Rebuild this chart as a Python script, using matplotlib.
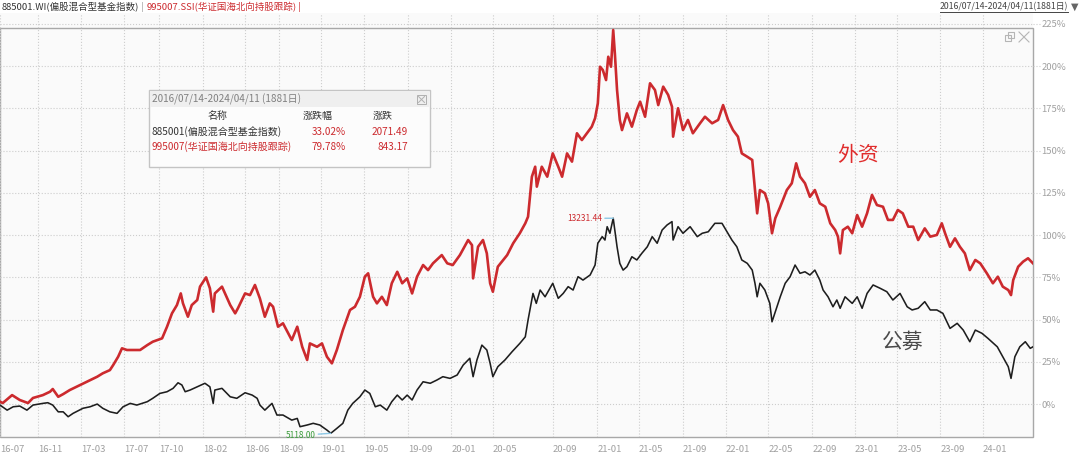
import matplotlib
matplotlib.use("Agg")
import matplotlib.pyplot as plt
from matplotlib.patches import Rectangle
from matplotlib.lines import Line2D

plt.rcParams['font.family'] = ['Noto Sans CJK SC', 'DejaVu Sans']

# ---- data (x = trading day index, y = % change) ----
red_day = [0, 5, 22, 36, 51, 60, 78, 91, 96, 106,
           115, 127, 146, 158, 177, 187, 200, 206, 215, 222,
           231, 242, 255, 268, 278, 295, 304, 313, 322, 329,
           333, 342, 349, 359, 364, 375, 382, 388, 391, 404,
           419, 428, 433, 446, 455, 464, 473, 482, 491, 497,
           506, 515, 531, 541, 550, 559, 564, 577, 586, 595,
           604, 613, 624, 637, 646, 655, 664, 670, 679, 686,
           695, 704, 713, 723, 732, 741, 750, 759, 770, 779,
           788, 804, 814, 824, 837, 852, 859, 861, 870, 879,
           886, 892, 897, 906, 923, 934, 946, 956, 961, 968,
           974, 977, 986, 996, 1006, 1016, 1023, 1032, 1041, 1050,
           1059, 1068, 1077, 1083, 1088, 1092, 1097, 1103, 1107, 1112,
           1116, 1119, 1123, 1128, 1132, 1141, 1150, 1159, 1165, 1174,
           1183, 1192, 1198, 1207, 1216, 1223, 1225, 1234, 1243, 1252,
           1261, 1274, 1283, 1296, 1307, 1316, 1325, 1334, 1343, 1350,
           1360, 1369, 1374, 1378, 1383, 1392, 1398, 1405, 1411, 1420,
           1432, 1441, 1449, 1456, 1465, 1474, 1483, 1492, 1502, 1511,
           1520, 1525, 1529, 1534, 1543, 1551, 1560, 1569, 1578, 1587,
           1596, 1607, 1616, 1625, 1634, 1643, 1653, 1662, 1671, 1683,
           1693, 1705, 1714, 1720, 1729, 1738, 1747, 1756, 1765, 1775,
           1784, 1796, 1807, 1816, 1825, 1835, 1840, 1844, 1853, 1862,
           1871, 1880]
red_pct = [1.4, 0.6, 5.3, 2.4, 0.6, 3.6, 5.3, 7.3, 8.9, 4.3,
           5.9, 8.3, 11.3, 13.2, 16.2, 18.2, 20.1, 23.1, 28.0, 33.0,
           32.0, 32.0, 32.0, 34.9, 36.9, 38.9, 45.8, 53.7, 58.6, 65.5,
           59.6, 51.7, 58.6, 61.6, 69.5, 75.0, 68.5, 54.7, 65.5, 69.5,
           58.6, 53.7, 56.7, 65.5, 64.5, 70.5, 62.5, 51.7, 59.6, 57.6,
           45.8, 47.8, 37.9, 45.8, 33.9, 26.1, 35.9, 33.9, 35.9, 28.0,
           24.1, 32.0, 43.8, 55.7, 57.6, 63.5, 75.4, 77.4, 63.5, 59.6,
           63.5, 58.6, 71.5, 78.3, 71.5, 74.4, 65.5, 75.4, 82.3, 79.3,
           83.3, 88.2, 83.3, 82.3, 88.2, 97.1, 94.1, 74.4, 93.1, 97.1,
           89.2, 71.5, 66.5, 81.3, 88.2, 95.2, 101.1, 107.0, 110.9, 134.6,
           140.5, 128.7, 140.5, 134.6, 148.4, 140.5, 134.6, 148.4, 143.5, 160.3,
           156.3, 160.3, 164.2, 169.2, 178.0, 199.7, 197.8, 191.8, 205.6, 199.7,
           221.4, 207.6, 185.9, 168.2, 162.2, 172.1, 164.2, 174.1, 179.0, 170.1,
           189.9, 185.9, 177.0, 187.9, 183.0, 176.0, 158.3, 175.1, 162.2, 168.2,
           160.3, 166.2, 170.1, 166.2, 168.2, 177.0, 168.2, 162.2, 158.3, 148.4,
           146.4, 144.5, 126.7, 112.9, 126.7, 124.8, 118.8, 101.1, 110.0, 116.8,
           126.7, 130.7, 142.5, 134.6, 130.7, 122.7, 126.7, 118.8, 116.8, 107.0,
           103.0, 99.1, 89.2, 103.0, 105.0, 101.1, 111.9, 105.0, 112.9, 123.8,
           117.8, 116.8, 109.0, 109.0, 114.9, 112.9, 105.0, 105.0, 97.1, 104.0,
           99.1, 100.1, 107.0, 101.1, 93.1, 98.1, 93.1, 89.2, 79.3, 85.3,
           83.3, 77.4, 71.5, 75.4, 69.5, 67.5, 64.5, 73.4, 81.3, 84.3,
           86.3, 83.3]

black_day = [0, 13, 24, 36, 49, 60, 78, 87, 96, 106,
             115, 124, 133, 151, 164, 177, 187, 200, 213, 224,
             237, 249, 268, 278, 291, 304, 315, 324, 331, 337,
             346, 359, 373, 382, 388, 391, 404, 419, 431, 446,
             459, 468, 473, 482, 495, 504, 515, 531, 541, 546,
             559, 570, 582, 595, 602, 613, 624, 633, 642, 655,
             664, 673, 683, 692, 704, 713, 723, 732, 741, 750,
             759, 770, 783, 795, 806, 819, 832, 843, 855, 861,
             868, 877, 886, 892, 897, 906, 919, 932, 946, 956,
             961, 970, 976, 983, 992, 1006, 1016, 1025, 1034, 1043,
             1052, 1061, 1074, 1083, 1088, 1096, 1101, 1105, 1110, 1116,
             1123, 1128, 1134, 1141, 1150, 1159, 1168, 1178, 1187, 1196,
             1205, 1214, 1223, 1225, 1234, 1243, 1256, 1269, 1278, 1289,
             1301, 1314, 1323, 1332, 1341, 1350, 1360, 1369, 1374, 1378,
             1383, 1392, 1401, 1405, 1414, 1420, 1429, 1438, 1447, 1456,
             1465, 1474, 1483, 1492, 1498, 1507, 1516, 1523, 1529, 1538,
             1551, 1560, 1569, 1578, 1589, 1602, 1614, 1625, 1638, 1651,
             1660, 1671, 1683, 1693, 1705, 1716, 1729, 1742, 1753, 1765,
             1775, 1787, 1798, 1815, 1825, 1835, 1840, 1847, 1856, 1866,
             1875, 1880]
black_pct = [-0.6, -3.6, -1.6, -1.2, -3.6, -0.6, 0.4, 0.8, -0.6, -4.6,
             -4.6, -7.5, -5.5, -2.5, -1.6, 0.0, -2.5, -4.6, -5.5, -1.6,
             0.4, -0.6, 1.4, 3.4, 6.3, 7.3, 9.3, 12.6, 11.3, 7.3,
             8.3, 10.2, 12.3, 10.2, 0.4, 8.3, 9.3, 4.3, 3.4, 6.7,
             5.3, 3.4, -0.6, -3.6, 0.4, -6.5, -6.5, -9.5, -8.5, -13.4,
             -12.4, -11.4, -12.4, -15.4, -17.3, -14.4, -11.4, -3.6, 0.4, 4.3,
             8.3, 6.3, -1.6, -0.6, -3.6, 1.4, 5.3, 2.4, 5.3, 2.4,
             8.3, 13.2, 12.3, 14.2, 16.2, 15.2, 17.2, 23.1, 27.1, 16.2,
             26.1, 34.9, 32.0, 24.1, 16.2, 22.1, 26.1, 31.0, 35.9, 39.8,
             49.7, 65.5, 59.6, 67.5, 63.5, 71.5, 62.6, 65.5, 69.5, 67.5,
             75.4, 73.4, 76.4, 82.3, 95.2, 99.1, 97.1, 105.0, 101.1, 110.0,
             93.1, 83.3, 79.3, 81.3, 87.2, 85.3, 89.2, 93.1, 99.1, 95.2,
             103.0, 106.0, 108.0, 97.1, 105.0, 101.1, 105.0, 99.1, 101.1, 102.0,
             107.0, 107.0, 102.0, 97.1, 93.1, 85.3, 83.3, 79.3, 71.5, 63.5,
             71.5, 67.5, 59.6, 48.7, 57.6, 63.5, 71.5, 75.4, 82.3, 77.4,
             78.3, 76.4, 79.3, 73.4, 67.5, 63.5, 57.6, 61.6, 56.7, 63.5,
             59.6, 63.5, 56.7, 65.5, 70.5, 68.5, 66.5, 61.6, 65.5, 57.6,
             55.7, 56.7, 60.6, 55.7, 55.7, 53.7, 44.8, 47.8, 43.8, 36.9,
             43.8, 41.9, 38.9, 33.9, 28.0, 22.1, 15.2, 28.0, 33.9, 36.9,
             33.0, 33.9]

tick_days = [0, 69, 147, 226, 289, 369, 446, 508, 584, 662, 743, 821,
             897, 1006, 1087, 1163, 1243, 1321, 1398, 1478, 1556, 1633, 1711, 1789]
tick_labels = ['16-07', '16-11', '17-03', '17-07', '17-10', '18-02', '18-06', '18-09',
               '19-01', '19-05', '19-09', '20-01', '20-05', '20-09', '21-01', '21-05',
               '21-09', '22-01', '22-05', '22-09', '23-01', '23-05', '23-09', '24-01']
y_ticks = [0, 25, 50, 75, 100, 125, 150, 175, 200, 225]

# 区间统计小窗
box_names = ['885001(偏股混合型基金指数)', '995007(华证国海北向持股跟踪)']
box_pct = ['33.02%', '79.78%']
box_chg = ['2071.49', '843.17']

# 最高/最低点标注
peak_day, peak_pct, peak_label = 1116, 110.0, '13231.44'
low_day, low_pct, low_label = 602, -17.3, '5118.00'

RED = '#cc2a2e'
W, H = 1080, 459


def fx(x):
    return x / W


def fy(y):
    return 1 - y / H


fig = plt.figure(figsize=(10.8, 4.59), dpi=100, facecolor='white')
ax = fig.add_axes([fx(0), fy(437), fx(1033), (437 - 13) / H])
ax.set_facecolor('#fafafa')
ax.set_xlim(0, 1880)
ax.set_ylim(-19.5, 231.5)

ax.plot(black_day, black_pct, color='#1e1e1e', lw=1.15)
ax.plot(red_day, red_pct, color=RED, lw=1.9)

ax.set_xticks(tick_days, tick_labels)
ax.set_yticks(y_ticks, [f'{v}%' for v in y_ticks])
ax.yaxis.tick_right()
ax.grid(True, ls=':', color='#cdcdcd', lw=0.8)
ax.tick_params(axis='both', length=0, labelsize=6.8, labelcolor='#a0a0a0')
ax.tick_params(axis='x', pad=6)
ax.tick_params(axis='y', pad=6)
for lab in ax.get_xticklabels():
    lab.set_ha('left')
for s in ax.spines.values():
    s.set_visible(False)

# 灰色边框 (顶边比坐标区低一点)
ax.add_patch(Rectangle((0, 0), 1, (437 - 28) / (437 - 13), transform=ax.transAxes,
                       fill=False, ec='#a8a8a8', lw=1.0, clip_on=False))

# 网格线延伸到右侧刻度文字
for v in y_ticks:
    yy = 437 - (v + 19.5) / 251.0 * 424
    fig.add_artist(Line2D([fx(1033), fx(1040)], [fy(yy)] * 2, transform=fig.transFigure,
                          color='#cdcdcd', lw=0.8, ls=':'))

# 标注
ax.annotate(peak_label, xy=(peak_day, peak_pct), xytext=(-8, 0), textcoords='offset points',
            ha='right', va='center', fontsize=6, color=RED,
            arrowprops=dict(arrowstyle='-', color='#8cc8e6', lw=1, shrinkA=0, shrinkB=0))
ax.annotate(low_label, xy=(low_day, low_pct), xytext=(-11, -1.5), textcoords='offset points',
            ha='right', va='center', fontsize=6, color='#3c9c3c',
            arrowprops=dict(arrowstyle='-', color='#8cc8e6', lw=1, shrinkA=0, shrinkB=0))

fig.text(fx(858), fy(155), '外资', fontsize=15, color='#e02c2c', ha='center', va='center')
fig.text(fx(903), fy(342), '公募', fontsize=15, color='#4a4a4a', ha='center', va='center')

# 顶部标题栏
renderer = fig.canvas.get_renderer()
x = 2
for s, c in [('885001.WI(偏股混合型基金指数)', '#333333'), (' | ', '#999999'),
             ('995007.SSI(华证国海北向持股跟踪)', RED), (' |', RED)]:
    t = fig.text(fx(x), fy(7), s, color=c, fontsize=6.8, va='center', ha='left')
    x += t.get_window_extent(renderer).width

t = fig.text(fx(1068), fy(7), '2016/07/14-2024/04/11(1881日)', color='#444444',
             fontsize=6.3, va='center', ha='right')
bb = t.get_window_extent(renderer)
fig.add_artist(Line2D([bb.x0 / W, bb.x1 / W], [(bb.y0 - 0.5) / H] * 2,
                      transform=fig.transFigure, color='#444444', lw=0.7))
fig.text(fx(1075), fy(7), '▼', color='#666666', fontsize=7, va='center', ha='center',
         family='DejaVu Sans')

# 右上角小图标
ic = '#b5b5b5'
fig.add_artist(Rectangle((fx(1005), fy(41)), 6 / W, 6 / H, transform=fig.transFigure,
                         fill=False, ec=ic, lw=0.8))
fig.add_artist(Rectangle((fx(1008), fy(38)), 6 / W, 6 / H, transform=fig.transFigure,
                         fill=False, ec=ic, lw=0.8))
fig.add_artist(Line2D([fx(1019), fx(1029)], [fy(32), fy(42)], transform=fig.transFigure, color=ic, lw=0.8))
fig.add_artist(Line2D([fx(1019), fx(1029)], [fy(42), fy(32)], transform=fig.transFigure, color=ic, lw=0.8))

# 区间统计窗口
bx0, bx1, by0, by1 = 149, 430, 90, 167
fig.add_artist(Rectangle((fx(bx0), fy(by1)), (bx1 - bx0) / W, (by1 - by0) / H,
                         transform=fig.transFigure, fc='#fcfcfc', ec='#c4c4c4', lw=1, zorder=5))
fig.add_artist(Rectangle((fx(bx0 + 1), fy(107)), (bx1 - bx0 - 2) / W, (107 - by0 - 1) / H,
                         transform=fig.transFigure, fc='#efefef', ec='none', zorder=5))
fig.add_artist(Rectangle((fx(417), fy(104)), 9 / W, 9 / H, transform=fig.transFigure,
                         fill=False, ec='#b0b0b0', lw=0.7, zorder=6))
fig.add_artist(Line2D([fx(418.5), fx(424.5)], [fy(96.5), fy(102.5)], transform=fig.transFigure,
                      color='#b0b0b0', lw=0.7, zorder=6))
fig.add_artist(Line2D([fx(418.5), fx(424.5)], [fy(102.5), fy(96.5)], transform=fig.transFigure,
                      color='#b0b0b0', lw=0.7, zorder=6))

fs = 7.2
fig.text(fx(152), fy(99), '2016/07/14-2024/04/11 (1881日)', color='#808080', fontsize=fs,
         va='center', zorder=7)
fig.text(fx(218), fy(116), '名称', color='#333333', fontsize=fs, ha='center', va='center', zorder=7)
fig.text(fx(318), fy(116), '涨跌幅', color='#333333', fontsize=fs, ha='center', va='center', zorder=7)
fig.text(fx(383), fy(116), '涨跌', color='#333333', fontsize=fs, ha='center', va='center', zorder=7)
row_y = [132, 147]
name_colors = ['#333333', RED]
for i in range(2):
    fig.text(fx(152), fy(row_y[i]), box_names[i], color=name_colors[i], fontsize=fs,
             va='center', zorder=7)
    fig.text(fx(346), fy(row_y[i]), box_pct[i], color=RED, fontsize=fs, ha='right',
             va='center', zorder=7)
    fig.text(fx(408), fy(row_y[i]), box_chg[i], color=RED, fontsize=fs, ha='right',
             va='center', zorder=7)

fig.savefig('out.png', dpi=100, facecolor='white')
